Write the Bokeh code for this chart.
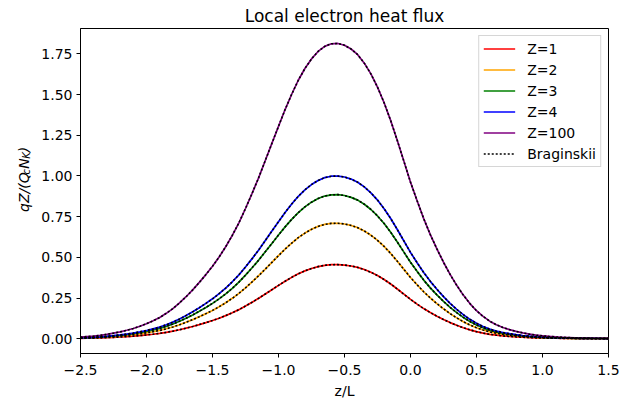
import math
from bokeh.plotting import figure
from bokeh.layouts import column, row
from bokeh.models import Range1d, FixedTicker, Legend, LegendItem
from bokeh.core.properties import value
from bokeh.embed import file_html
from bokeh.resources import INLINE

# ---- data ----
z = [-2.5, -2.45, -2.4, -2.35, -2.3, -2.25, -2.2, -2.15, -2.1, -2.05,
     -2.0, -1.95, -1.9, -1.85, -1.8, -1.75, -1.7, -1.65, -1.6, -1.55,
     -1.5, -1.45, -1.4, -1.35, -1.3, -1.25, -1.2, -1.15, -1.1, -1.05,
     -1.0, -0.95, -0.9, -0.85, -0.8, -0.75, -0.7, -0.65, -0.6, -0.55,
     -0.5, -0.45, -0.4, -0.35, -0.3, -0.25, -0.2, -0.15, -0.1, -0.05,
     0.0, 0.05, 0.1, 0.15, 0.2, 0.25, 0.3, 0.35, 0.4, 0.45,
     0.5, 0.55, 0.6, 0.65, 0.7, 0.75, 0.8, 0.85, 0.9, 0.95,
     1.0, 1.05, 1.1, 1.15, 1.2, 1.25, 1.3, 1.35, 1.4, 1.45, 1.5]

q_z1 = [0.0025, 0.0033, 0.0040, 0.0053, 0.0068, 0.0085, 0.0105, 0.0131, 0.0158, 0.0193,
        0.0231, 0.0276, 0.0326, 0.0392, 0.0464, 0.0552, 0.0648, 0.0753, 0.0868, 0.0989,
        0.1117, 0.1260, 0.1418, 0.1594, 0.1787, 0.2008, 0.2241, 0.2485, 0.2748, 0.3012,
        0.3276, 0.3534, 0.3770, 0.3986, 0.4167, 0.4315, 0.4430, 0.4508, 0.4548, 0.4553,
        0.4526, 0.4468, 0.4380, 0.4249, 0.4084, 0.3880, 0.3640, 0.3363, 0.3057, 0.2736,
        0.2415, 0.2128, 0.1852, 0.1606, 0.1386, 0.1180, 0.0991, 0.0823, 0.0673, 0.0542,
        0.0432, 0.0344, 0.0271, 0.0216, 0.0173, 0.0141, 0.0113, 0.0090, 0.0070, 0.0055,
        0.0045, 0.0035, 0.0028, 0.0023, 0.0018, 0.0013, 0.0010, 0.0009, 0.0008, 0.0006, 0.0005]
q_z2 = [0.0039, 0.0051, 0.0063, 0.0082, 0.0106, 0.0133, 0.0164, 0.0203, 0.0246, 0.0301,
        0.0360, 0.0430, 0.0508, 0.0610, 0.0723, 0.0860, 0.1009, 0.1173, 0.1353, 0.1541,
        0.1740, 0.1963, 0.2209, 0.2483, 0.2784, 0.3128, 0.3492, 0.3871, 0.4281, 0.4692,
        0.5103, 0.5505, 0.5873, 0.6209, 0.6491, 0.6721, 0.6901, 0.7022, 0.7085, 0.7093,
        0.7050, 0.6960, 0.6823, 0.6620, 0.6362, 0.6045, 0.5670, 0.5239, 0.4762, 0.4262,
        0.3761, 0.3316, 0.2886, 0.2502, 0.2158, 0.1838, 0.1544, 0.1282, 0.1048, 0.0845,
        0.0673, 0.0536, 0.0422, 0.0336, 0.0270, 0.0219, 0.0176, 0.0141, 0.0109, 0.0086,
        0.0070, 0.0055, 0.0043, 0.0035, 0.0027, 0.0020, 0.0016, 0.0014, 0.0012, 0.0010, 0.0008]
q_z3 = [0.0049, 0.0063, 0.0078, 0.0102, 0.0132, 0.0166, 0.0205, 0.0254, 0.0307, 0.0376,
        0.0449, 0.0537, 0.0634, 0.0761, 0.0903, 0.1074, 0.1259, 0.1464, 0.1688, 0.1923,
        0.2172, 0.2450, 0.2757, 0.3099, 0.3475, 0.3904, 0.4358, 0.4831, 0.5344, 0.5856,
        0.6368, 0.6871, 0.7330, 0.7749, 0.8101, 0.8389, 0.8613, 0.8764, 0.8843, 0.8852,
        0.8799, 0.8686, 0.8516, 0.8262, 0.7940, 0.7544, 0.7076, 0.6539, 0.5944, 0.5319,
        0.4695, 0.4138, 0.3601, 0.3123, 0.2694, 0.2294, 0.1928, 0.1601, 0.1308, 0.1054,
        0.0839, 0.0669, 0.0527, 0.0420, 0.0337, 0.0273, 0.0220, 0.0176, 0.0137, 0.0107,
        0.0088, 0.0068, 0.0054, 0.0044, 0.0034, 0.0024, 0.0020, 0.0017, 0.0015, 0.0012, 0.0010]
q_z4 = [0.0055, 0.0072, 0.0088, 0.0116, 0.0149, 0.0187, 0.0231, 0.0287, 0.0347, 0.0424,
        0.0507, 0.0606, 0.0716, 0.0860, 0.1019, 0.1212, 0.1422, 0.1653, 0.1906, 0.2171,
        0.2452, 0.2766, 0.3113, 0.3499, 0.3923, 0.4408, 0.4920, 0.5455, 0.6033, 0.6612,
        0.7191, 0.7758, 0.8276, 0.8750, 0.9147, 0.9472, 0.9725, 0.9896, 0.9984, 0.9995,
        0.9935, 0.9808, 0.9615, 0.9328, 0.8965, 0.8518, 0.7990, 0.7383, 0.6711, 0.6006,
        0.5301, 0.4672, 0.4066, 0.3526, 0.3042, 0.2590, 0.2176, 0.1807, 0.1477, 0.1190,
        0.0948, 0.0755, 0.0595, 0.0474, 0.0380, 0.0309, 0.0248, 0.0198, 0.0154, 0.0121,
        0.0099, 0.0077, 0.0061, 0.0050, 0.0039, 0.0028, 0.0022, 0.0019, 0.0017, 0.0014, 0.0011]
q_z100 = [0.010, 0.013, 0.016, 0.021, 0.027, 0.034, 0.042, 0.052, 0.063, 0.077,
          0.092, 0.110, 0.130, 0.156, 0.185, 0.220, 0.258, 0.300, 0.346, 0.394,
          0.445, 0.502, 0.565, 0.635, 0.712, 0.800, 0.893, 0.990, 1.095, 1.200,
          1.305, 1.408, 1.502, 1.588, 1.660, 1.719, 1.765, 1.796, 1.812, 1.814,
          1.803, 1.780, 1.745, 1.693, 1.627, 1.546, 1.450, 1.340, 1.218, 1.090,
          0.962, 0.848, 0.738, 0.640, 0.552, 0.470, 0.395, 0.328, 0.268, 0.216,
          0.172, 0.137, 0.108, 0.086, 0.069, 0.056, 0.045, 0.036, 0.028, 0.022,
          0.018, 0.014, 0.011, 0.009, 0.007, 0.005, 0.004, 0.0035, 0.003, 0.0025, 0.002]

# Braginskii curves coincide with the kinetic ones in the picture
brag_z1, brag_z2, brag_z3, brag_z4, brag_z100 = q_z1, q_z2, q_z3, q_z4, q_z100

labels = ["Z=1", "Z=2", "Z=3", "Z=4", "Z=100"]
colors = ["red", "orange", "green", "blue", "purple"]

x_ticks = [-2.5, -2.0, -1.5, -1.0, -0.5, 0.0, 0.5, 1.0, 1.5]
x_tick_labels = ["\u22122.5", "\u22122.0", "\u22121.5", "\u22121.0", "\u22120.5", "0.0", "0.5", "1.0", "1.5"]
y_ticks = [0.0, 0.25, 0.5, 0.75, 1.0, 1.25, 1.5, 1.75]
y_tick_labels = ["0.00", "0.25", "0.50", "0.75", "1.00", "1.25", "1.50", "1.75"]

title_text = "Local electron heat flux"
x_label = "z/L"
y_label_parts = ["qZ/(Q", "c", "N", "K", ")"]

FONT = "DejaVu Sans"
W, H = 634, 400
TOP_H, BOT_H, YL_W = 24, 19, 36
MID_H = H - TOP_H - BOT_H
FRAME_L, FRAME_T, FRAME_W, FRAME_H = 80, 28, 528, 325
FRAME_CX = FRAME_L + FRAME_W / 2
BASE_FIX = 5  # bokeh places the alphabetic baseline a few px lower


def text_strip(w, h):
    f = figure(width=w, height=h, x_range=Range1d(0, w), y_range=Range1d(0, h),
               output_backend="svg", toolbar_location=None, title=None,
               x_axis_type=None, y_axis_type=None, min_border=0)
    f.outline_line_color = None
    f.background_fill_color = "white"
    f.border_fill_color = "white"
    return f


# ---- main plot ----
p = figure(width=W - YL_W, height=MID_H, title=None,
           x_range=Range1d(-2.5, 1.5), y_range=Range1d(-0.0908, 1.906),
           output_backend="svg", toolbar_location=None,
           min_border_left=FRAME_L - YL_W, min_border_right=W - FRAME_L - FRAME_W,
           min_border_top=FRAME_T - TOP_H,
           min_border_bottom=MID_H - (FRAME_T - TOP_H) - FRAME_H)
p.background_fill_color = "white"
p.border_fill_color = "white"
p.outline_line_color = "black"
p.outline_line_width = 1
p.xgrid.visible = False
p.ygrid.visible = False

for ax in (p.xaxis[0], p.yaxis[0]):
    ax.axis_line_color = "black"
    ax.axis_line_width = 1
    ax.major_tick_line_color = "black"
    ax.major_tick_line_width = 1
    ax.major_tick_in = 0
    ax.major_tick_out = 4
    ax.minor_tick_line_color = None
    ax.major_label_text_font = FONT
    ax.major_label_text_font_size = "14px"
    ax.major_label_text_color = "black"
    ax.major_label_standoff = 4
p.xaxis[0].major_label_standoff = 7

p.xaxis.ticker = FixedTicker(ticks=x_ticks)
p.xaxis.major_label_overrides = dict(zip(x_ticks, x_tick_labels))
p.yaxis.ticker = FixedTicker(ticks=y_ticks)
p.yaxis.major_label_overrides = dict(zip(y_ticks, y_tick_labels))

kinetic = [q_z1, q_z2, q_z3, q_z4, q_z100]
brag = [brag_z1, brag_z2, brag_z3, brag_z4, brag_z100]

items = []
for lab, col, ys in zip(labels, colors, kinetic):
    r = p.line(z, ys, line_color=col, line_width=1.7)
    items.append(LegendItem(label=lab, renderers=[r]))

brag_renderers = []
for ys in brag:
    r = p.line(z, ys, line_color="black", line_width=1.6, line_dash="2 2")
    brag_renderers.append(r)
items.append(LegendItem(label="Braginskii", renderers=[brag_renderers[0]]))

legend = Legend(items=items, location="top_right", margin=7, padding=4, spacing=4,
                glyph_width=32, glyph_height=17, label_height=17, label_standoff=12,
                label_text_font=FONT, label_text_font_size="14px", label_text_color="black",
                border_line_color="#cccccc", border_line_alpha=0.8,
                background_fill_color="white", background_fill_alpha=0.8)
p.add_layout(legend)

# ---- title strip ----
top = text_strip(W, TOP_H)
top.text(x=[FRAME_CX], y=[TOP_H - 20 + BASE_FIX], text=[title_text], text_font=value(FONT),
         text_font_size="17px", text_align="center", text_baseline="alphabetic",
         text_color="black")

# ---- x label strip ----
bot = text_strip(W, BOT_H)
bot.text(x=[FRAME_CX], y=[H - 395 + BASE_FIX], text=[x_label], text_font=value(FONT),
         text_font_size="14px", text_align="center", text_baseline="alphabetic",
         text_color="black")

# ---- y label strip: qZ/(Q_c N_K) rotated ----
yl = text_strip(YL_W, MID_H)
centre = MID_H - ((FRAME_T + FRAME_T + FRAME_H) / 2 - TOP_H)
y0 = centre - 35
bx = 28 - BASE_FIX
sizes = ["14px", "10px", "14px", "10px", "14px"]
offs = [0, 41.0, 47.5, 58.5, 65.5]
xs = [bx, bx + 3, bx, bx + 3, bx]
for part, sz, off, xx in zip(y_label_parts, sizes, offs, xs):
    yl.text(x=[xx], y=[y0 + off], text=[part], angle=math.pi / 2,
            text_font=value(FONT), text_font_size=sz, text_font_style="italic",
            text_align="left", text_baseline="alphabetic", text_color="black")

layout = column(top, row(yl, p), bot)
open("out.html", "w").write(file_html(layout, INLINE))
